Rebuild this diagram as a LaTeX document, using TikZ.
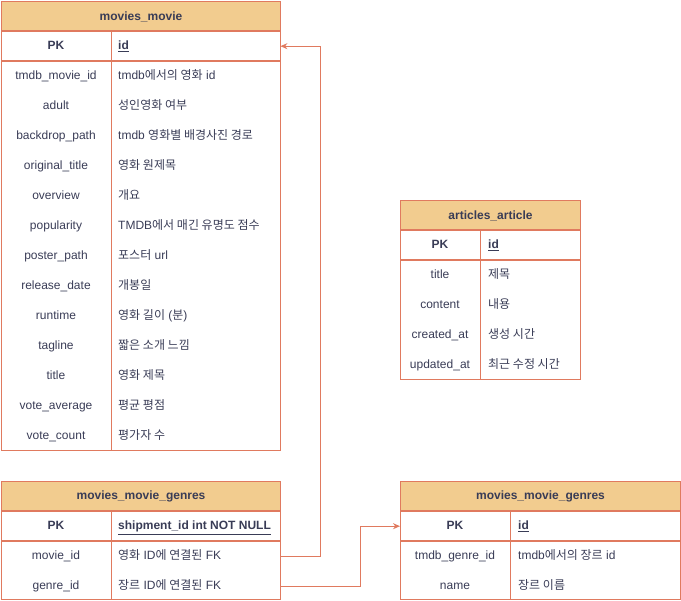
\documentclass[tikz,border=0pt]{standalone}
\usepackage{fontspec}
\setmainfont{Liberation Sans}
\newfontfamily\kr{Noto Sans CJK KR}
\usetikzlibrary{arrows.meta}
\definecolor{linec}{HTML}{E07A5F}
\definecolor{headc}{HTML}{F2CC8F}
\definecolor{textc}{HTML}{393C56}
\tikzset{
  tbl/.style={draw=linec, line width=1pt},
  head/.style={tbl, fill=headc, anchor=north west, inner sep=0pt,
    minimum height=30pt, font=\fontsize{12}{14}\selectfont\bfseries},
  rowbox/.style={anchor=north west, inner sep=0pt, minimum height=30pt},
  txt/.style={text height=9pt, text depth=1pt},
  key/.style={txt, font=\fontsize{12}{14}\selectfont\bfseries},
  fld/.style={txt, font=\fontsize{12}{14}\selectfont},
  val/.style={txt, anchor=west, inner sep=0pt, font=\fontsize{12}{14}\selectfont},
  link/.style={draw=linec, line width=1pt, -{Stealth[length=7pt,width=6pt]}}
}
\begin{document}
\begin{tikzpicture}[x=1pt, y=-1pt, every node/.append style={text=textc}]
  \useasboundingbox (0,0) rectangle (681,601);
  % movies_movie
  \node[head, minimum width=279pt] (mm) at (1,1) {movies\_movie};
  \node[rowbox, minimum width=279pt] (mmpk) at (1,31) {};
  \draw[tbl] (mmpk.north west) rectangle (mmpk.south east);
  \draw[tbl] (111,31) -- (111,61);
  \node[key] (mmpkf) at (56,46) {PK};
  \node[val, key] (mmpkv) at (118,46) {\underline{id}};
  \draw[tbl] (1,61) rectangle (280,451);
  \draw[tbl] (111,61) -- (111,451);
  \foreach \f/\v [count=\i] in {
      tmdb\_movie\_id/tmdb{\kr 에서의 영화} id,
      adult/{\kr 성인영화 여부},
      backdrop\_path/tmdb {\kr 영화별 배경사진 경로},
      original\_title/{\kr 영화 원제목},
      overview/{\kr 개요},
      popularity/TMDB{\kr 에서 매긴 유명도 점수},
      poster\_path/{\kr 포스터} url,
      release\_date/{\kr 개봉일},
      runtime/{\kr 영화 길이} ({\kr 분}),
      tagline/{\kr 짧은 소개 느낌},
      title/{\kr 영화 제목},
      vote\_average/{\kr 평균 평점},
      vote\_count/{\kr 평가자 수}} {
    \node[fld] (mmf\i) at (56,46+30*\i) {\f};
    \node[val] (mmv\i) at (118,46+30*\i) {\v};
  }

  % articles_article
  \node[head, minimum width=180pt] (aa) at (400,200) {articles\_article};
  \node[rowbox, minimum width=180pt] (aapk) at (400,230) {};
  \draw[tbl] (aapk.north west) rectangle (aapk.south east);
  \draw[tbl] (480,230) -- (480,260);
  \node[key] (aapkf) at (440,245) {PK};
  \node[val, key] (aapkv) at (488,245) {\underline{id}};
  \draw[tbl] (400,260) rectangle (580,380);
  \draw[tbl] (480,260) -- (480,380);
  \foreach \f/\v [count=\i] in {
      title/{\kr 제목},
      content/{\kr 내용},
      created\_at/{\kr 생성 시간},
      updated\_at/{\kr 최근 수정 시간}} {
    \node[fld] (aaf\i) at (440,245+30*\i) {\f};
    \node[val] (aav\i) at (488,245+30*\i) {\v};
  }

  % movies_movie_genres (left)
  \node[head, minimum width=279pt] (mg) at (1,481) {movies\_movie\_genres};
  \node[rowbox, minimum width=279pt] (mgpk) at (1,511) {};
  \draw[tbl] (mgpk.north west) rectangle (mgpk.south east);
  \draw[tbl] (111,511) -- (111,541);
  \node[key] (mgpkf) at (56,526) {PK};
  \node[val, key] (mgpkv) at (118,526) {\underline{shipment\_id int NOT NULL}};
  \draw[tbl] (1,541) rectangle (280,600);
  \draw[tbl] (111,541) -- (111,600);
  \foreach \f/\v [count=\i] in {
      movie\_id/{\kr 영화} ID{\kr 에 연결된} FK,
      genre\_id/{\kr 장르} ID{\kr 에 연결된} FK} {
    \node[rowbox, minimum width=279pt] (mgr\i) at (1,511+30*\i) {};
    \node[fld] (mgf\i) at (56,526+30*\i) {\f};
    \node[val] (mgv\i) at (118,526+30*\i) {\v};
  }

  % movies_movie_genres (right)
  \node[head, minimum width=280pt] (mh) at (400,481) {movies\_movie\_genres};
  \node[rowbox, minimum width=280pt] (mhpk) at (400,511) {};
  \draw[tbl] (mhpk.north west) rectangle (mhpk.south east);
  \draw[tbl] (510,511) -- (510,541);
  \node[key] (mhpkf) at (455,526) {PK};
  \node[val, key] (mhpkv) at (518,526) {\underline{id}};
  \draw[tbl] (400,541) rectangle (680,600);
  \draw[tbl] (510,541) -- (510,600);
  \foreach \f/\v [count=\i] in {
      tmdb\_genre\_id/tmdb{\kr 에서의 장르} id,
      name/{\kr 장르 이름}} {
    \node[fld] (mhf\i) at (455,526+30*\i) {\f};
    \node[val] (mhv\i) at (518,526+30*\i) {\v};
  }

  % links
  \draw[link] (mgr1.east) -- ++(40,0) |- (mmpk.east);
  \draw[link] (mgr2.east) -- ++(80,0) |- (mhpk.west);
\end{tikzpicture}
\end{document}
